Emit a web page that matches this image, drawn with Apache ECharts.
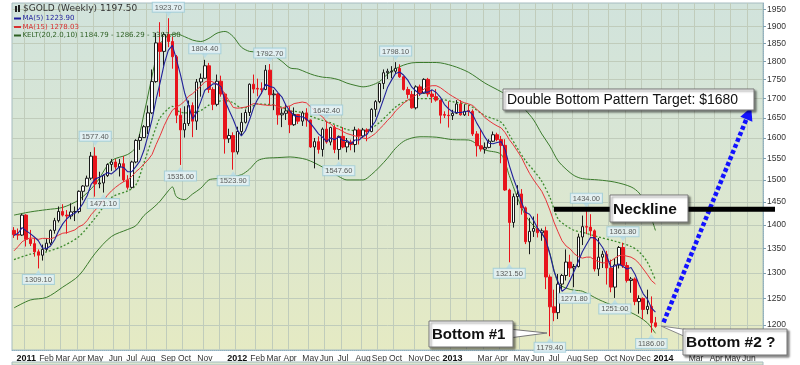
<!DOCTYPE html>
<html><head><meta charset="utf-8">
<script src="https://cdn.jsdelivr.net/npm/echarts@6/dist/echarts.min.js"></script>
<style>html,body{margin:0;padding:0;background:#fff}#c{width:800px;height:365px}</style>
</head><body><div id="c"></div><script>
// ---- calendar (weekly bars, Monday dates) ----
const weekStartUTC = Date.UTC(2010, 11, 13);
const weekCount = 185;
const monthNames = ['Jan','Feb','Mar','Apr','May','Jun','Jul','Aug','Sep','Oct','Nov','Dec'];
const hiddenMonthLabels = ['2011-12', '2013-02', '2014-02'];
const yTicks = [1200,1250,1300,1350,1400,1450,1500,1550,1600,1650,1700,1750,1800,1850,1900,1950];
const yMin = 1154.7, yMax = 1969.3;

// ---- weekly OHLC ($GOLD) ----
const openP = [1388,1379,1378,1421,1369,1360,1343,1336,1348,1361,
1388,1409,1429,1421,1419,1428,1429,1474,1486,1504,
1556,1491,1493,1510,1536,1542,1530,1538,1500,1483,
1542,1594,1601,1628,1663,1745,1852,1828,1876,1856,
1813,1657,1620,1636,1682,1642,1744,1754,1788,1724,
1685,1746,1712,1598,1606,1566,1616,1639,1664,1738,
1727,1726,1724,1776,1710,1712,1658,1662,1668,1633,
1659,1642,1663,1645,1578,1591,1572,1622,1590,1626,
1572,1604,1578,1590,1584,1620,1605,1620,1616,1672,
1692,1740,1769,1771,1773,1781,1758,1724,1711,1676,
1731,1714,1751,1712,1705,1696,1659,1657,1656,1662,
1686,1658,1669,1667,1610,1581,1573,1577,1592,1608,
1596,1582,1477,1405,1462,1468,1437,1364,1386,1392,
1383,1387,1292,1234,1223,1278,1295,1322,1310,1313,
1374,1396,1395,1387,1308,1332,1338,1310,1272,1316,
1352,1315,1285,1288,1244,1250,1229,1235,1204];
const closeP = [1379,1378,1421,1369,1360,1343,1336,1348,1361,1388,
1409,1429,1421,1419,1428,1429,1474,1486,1504,1556,
1491,1493,1510,1536,1542,1530,1538,1500,1483,1542,
1594,1601,1628,1663,1745,1852,1828,1876,1856,1813,
1657,1620,1636,1682,1642,1744,1754,1788,1724,1685,
1746,1712,1598,1606,1566,1616,1639,1664,1738,1725,
1725,1724,1776,1710,1712,1658,1662,1668,1633,1659,
1642,1663,1645,1578,1591,1572,1622,1590,1626,1572,
1604,1578,1590,1584,1620,1605,1620,1616,1672,1692,
1740,1769,1773,1773,1781,1758,1724,1711,1676,1731,
1714,1751,1712,1705,1696,1657,1657,1656,1662,1686,
1658,1667,1667,1610,1581,1573,1577,1592,1608,1596,
1582,1477,1405,1462,1468,1437,1364,1386,1392,1383,
1387,1292,1234,1223,1278,1295,1322,1310,1313,1374,
1396,1395,1387,1308,1332,1338,1310,1272,1316,1352,
1315,1285,1288,1244,1250,1229,1235,1204,1197.5];
const lowP = [1372,1368,1376,1354,1355,1333,1309.1,1325,1344,1357,
1381,1405,1418,1381,1412,1408,1425,1454,1485,1500,
1462,1481,1471.1,1507,1521,1524,1508,1495,1478,1480,
1539,1571,1600,1610,1660,1742,1705,1788,1840,1780,
1637,1535,1601,1630,1602,1620,1705,1753,1715,1670,
1680,1705,1562,1588,1523.9,1560,1605,1636,1655,1714,
1706,1712,1722,1686,1670,1633,1627,1645,1612,1630,
1635,1630,1628,1576,1527,1562,1555,1586,1582,1563,
1547.6,1575,1565,1570,1565,1584,1600,1592,1614,1653,
1688,1725,1752,1754,1766,1755,1721,1700,1674,1672,
1707,1713,1705,1689,1692,1636,1650,1626,1645,1660,
1656,1655,1655,1605,1555,1567,1562,1575,1590,1592,
1539,1475,1321.5,1394,1443,1422,1359,1338,1374,1373,
1366,1268,1179.4,1207,1211,1268,1285,1292,1271.8,1311,
1357,1380,1375,1303,1294,1310,1277,1262,1251,1309,
1310,1281,1261,1237,1221,1211,1220,1186,1195];
const highP = [1395,1392,1424,1423,1389,1373,1348,1358,1371,1390,
1415,1440,1445,1432,1447,1440,1476,1488,1510,1566,
1577.4,1519,1513,1539,1549,1549,1549,1556,1511,1545,
1597,1610,1632,1682,1778,1881,1912,1883,1923.7,1870,
1818,1675,1680,1695,1690,1752,1767,1804.4,1796,1730,
1764,1761,1716,1623,1614,1628,1663,1672,1740,1764,
1753,1743,1790,1792.7,1723,1715,1675,1686,1680,1677,
1660,1668,1675,1646,1600,1604,1626,1642.4,1628,1632,
1606,1627,1600,1596,1628,1624,1625,1624,1675,1696,
1742,1778,1780,1787,1798.1,1792,1760,1731,1720,1735,
1737,1754,1755,1723,1725,1697,1667,1693,1671,1696,
1696,1685,1683,1672,1617,1620,1589,1597,1616,1613,
1605,1597,1480,1469,1488,1479,1440,1415,1418,1424,
1392,1396,1297,1267,1298,1298,1348,1337,1318,1381,
1420,1434,1423,1390,1372,1345,1345,1327,1330,1355,
1361.8,1322,1292,1291,1256,1252,1267,1254,1215];

// ---- indicators ----
const ma5 = [1377,1382,1394,1387,1381,1374,1366,1351,1350,1355,
1368,1387,1402,1413,1421,1425,1434,1447,1464,1490,
1502,1506,1511,1517,1514,1522,1531,1529,1519,1519,
1531,1544,1570,1606,1646,1698,1743,1793,1831,1845,
1806,1764,1716,1682,1647,1665,1692,1722,1730,1739,
1739,1731,1693,1669,1646,1620,1605,1618,1645,1676,
1698,1715,1738,1732,1729,1716,1704,1682,1667,1656,
1653,1653,1648,1637,1624,1610,1602,1591,1600,1596,
1603,1594,1594,1586,1595,1595,1604,1609,1627,1641,
1668,1698,1729,1749,1767,1771,1762,1749,1730,1720,
1711,1717,1717,1723,1716,1704,1685,1674,1666,1664,
1664,1666,1668,1658,1637,1620,1602,1587,1586,1589,
1591,1571,1534,1504,1479,1450,1427,1423,1409,1392,
1382,1368,1338,1304,1283,1264,1270,1286,1304,1323,
1343,1358,1373,1372,1364,1352,1335,1312,1314,1318,
1313,1308,1311,1297,1276,1259,1249,1232,1223.9];
const ma15 = [1345,1354,1364,1369,1372,1371,1369,1371,1371,1370,
1373,1378,1382,1383,1386,1389,1396,1400,1409,1422,
1432,1442,1453,1465,1475,1483,1490,1496,1500,1508,
1519,1527,1537,1547,1560,1584,1606,1631,1652,1670,
1678,1684,1693,1706,1713,1723,1733,1744,1748,1744,
1737,1729,1710,1694,1677,1675,1676,1678,1681,1687,
1686,1684,1683,1682,1684,1678,1675,1679,1681,1687,
1689,1691,1689,1679,1670,1660,1653,1640,1635,1625,
1622,1616,1611,1608,1605,1603,1600,1598,1604,1611,
1622,1632,1644,1654,1668,1678,1688,1696,1702,1709,
1717,1725,1732,1734,1734,1729,1721,1713,1706,1700,
1693,1689,1686,1682,1672,1663,1651,1643,1636,1630,
1625,1613,1596,1583,1568,1553,1533,1515,1500,1487,
1474,1455,1432,1406,1385,1366,1355,1349,1339,1333,
1330,1332,1332,1326,1323,1320,1321,1324,1330,1335,
1336,1334,1332,1327,1319,1308,1297,1285,1278.03];
const keltWeeks = [0,4,8,12,16,20,24,28,30,32,34,35,36,38,39,40,42,44,46,48,50,52,54,56,58,60,62,64,66,68,70,72,74,76,78,80,82,84,86,88,90,92,94,96,98,100,104,108,112,116,120,122,124,126,128,130,132,134,136,138,140,144,148,152,154,156,157,158];
const keltUpper = [1421,1428,1433,1438,1455,1490,1545,1560,1578,1660,1760,1811,1850,1873,1876,1878,1870,1860,1856,1865,1880,1885,1870,1840,1828,1826,1818,1815,1800,1782,1779,1770,1762,1757,1755,1750,1741,1735,1731,1735,1745,1765,1780,1790,1796,1797,1797,1788,1770,1741,1718,1705,1690,1670,1645,1610,1580,1545,1525,1510,1503,1500,1495,1484,1470,1440,1415,1387.8];
const keltMid = [1327,1338,1343,1355,1375,1415,1460,1475,1488,1540,1598,1627,1651,1674,1680,1670,1663,1664,1669,1683,1692,1695,1689,1676,1677,1686,1685,1684,1677,1668,1666,1659,1651,1644,1638,1629,1621,1618,1616,1624,1638,1658,1678,1691,1698,1700,1700,1692,1683,1656,1639,1608,1575,1545,1522,1497,1460,1413,1398,1388,1384,1374,1365,1354,1343,1322,1305,1286.29];
const keltLower = [1232,1247,1252,1272,1295,1340,1375,1390,1398,1420,1435,1443,1452,1475,1484,1462,1455,1468,1481,1500,1503,1505,1508,1512,1525,1545,1551,1552,1553,1554,1552,1548,1540,1530,1520,1508,1500,1500,1500,1512,1530,1551,1575,1592,1600,1603,1602,1596,1595,1571,1560,1510,1460,1420,1398,1383,1340,1280,1270,1266,1264,1248,1235,1223,1215,1204,1195,1184.79];

// ---- labelled swing highs / lows ----
const markWeeks  = [6,20,22,38,41,47,54,63,77,80,94,122,132,138,141,148,150,157];
const markPrices = [1309.1,1577.4,1471.1,1923.7,1535.0,1804.4,1523.9,1792.7,1642.4,1547.6,1798.1,1321.5,1179.4,1271.8,1434.0,1251.0,1361.8,1186.0];
const markSides  = ['low','high','low','high','low','high','low','high','high','low','high','low','low','low','high','low','high','low'];

// ---- annotation values ----
const necklinePrice = 1434;
const necklineFromWeek = 133;
const arrowFrom = [160, 1205];
const arrowTo = [181, 1662];

// ---------------------------------------------------------------
const weeks = [];
for (let i = 0; i < weekCount; i++) {
  weeks.push(new Date(weekStartUTC + i * 7 * 86400000).toISOString().slice(0, 10));
}
const isMonthStart = (i, v) => Number(v.slice(8, 10)) <= 7;
const showMonthLabel = (i, v) => isMonthStart(i, v) && hiddenMonthLabels.indexOf(v.slice(0, 7)) < 0;
const candleData = openP.map((o, i) => [o, closeP[i], lowP[i], highP[i]]);
const pairs = (vals) => keltWeeks.map((w, i) => [w, vals[i]]);
const markData = markWeeks.map((w, i) => {
  const hi = markSides[i] === 'high';
  return {
    value: [w, markPrices[i]],
    symbolRotate: hi ? 180 : 0,
    symbolOffset: [0, hi ? -4 : 4],
    label: { position: hi ? 'top' : 'bottom', formatter: markPrices[i].toFixed(2) }
  };
});
const gridColor = '#c0ccbb';
const bgGrad = new echarts.graphic.LinearGradient(0, 0, 0, 1, [
  { offset: 0, color: '#d1e3dc' }, { offset: 0.5, color: '#dae6d2' }, { offset: 1, color: '#e5eac3' }]);

const chart = echarts.init(document.getElementById('c'));
chart.setOption({
  animation: false,
  backgroundColor: '#fff',
  grid: { left: 12, right: 37, top: 3, bottom: 15, show: true, backgroundColor: bgGrad,
          borderColor: '#a6bcc0', borderWidth: 1, outerBoundsMode: 'none', containLabel: false },
  xAxis: {
    type: 'category', data: weeks, boundaryGap: true,
    axisLine: { show: true, lineStyle: { color: '#8fb0c0', type: 'dotted' } },
    axisTick: { show: false },
    axisLabel: {
      interval: showMonthLabel, margin: 4,
      formatter: (v) => { const m = Number(v.slice(5, 7)); return m === 1 ? '{y|' + v.slice(0, 4) + '}' : '{m|' + monthNames[m - 1] + '}'; },
      rich: { y: { fontFamily: 'Liberation Sans', fontWeight: 'bold', fontSize: 9, color: '#111' },
              m: { fontFamily: 'Liberation Sans', fontSize: 8.5, color: '#333' } }
    },
    splitLine: { show: true, interval: isMonthStart, lineStyle: { color: gridColor, width: 1 } }
  },
  yAxis: {
    type: 'log', logBase: 10, position: 'right', min: yMin, max: yMax, scale: true,
    axisLine: { show: true, lineStyle: { color: '#8fb0c0', type: 'dotted' } },
    axisTick: { show: true, customValues: yTicks, length: 3, lineStyle: { color: '#7f9faf' } },
    axisLabel: { customValues: yTicks, formatter: (v) => String(Math.round(v)), fontFamily: 'Liberation Sans', fontSize: 8.5, color: '#333', margin: 4 },
    splitLine: { show: true, lineStyle: { color: gridColor, width: 1 } },
    minorSplitLine: { show: false }
  },
  series: [
    { type: 'line', data: pairs(keltUpper), symbol: 'none', smooth: 0.3, silent: true, z: 2,
      lineStyle: { color: '#3b7b2c', width: 1 } },
    { type: 'line', data: pairs(keltLower), symbol: 'none', smooth: 0.3, silent: true, z: 2,
      lineStyle: { color: '#3b7b2c', width: 1 } },
    { type: 'line', data: pairs(keltMid), symbol: 'none', smooth: 0.3, silent: true, z: 2,
      lineStyle: { color: '#3e8b2e', width: 1.3, type: [2, 2] } },
    { type: 'candlestick', data: candleData, barWidth: 3, silent: true, z: 3,
      itemStyle: { color: '#ffffff', color0: '#e8141c', borderColor: '#1a1a1a', borderColor0: '#e8141c', borderWidth: 1 } },
    { type: 'line', data: ma15, symbol: 'none', silent: true, z: 4,
      lineStyle: { color: '#e8343a', width: 1 } },
    { type: 'line', data: ma5, symbol: 'none', silent: true, z: 5,
      lineStyle: { color: '#20209a', width: 1.1 },
      markLine: { silent: true, symbol: ['none', 'triangle'], symbolSize: [13, 13], label: { show: false },
        lineStyle: { color: '#1212ff', width: 4.5, type: [4, 2.5] },
        data: [[{ coord: arrowFrom }, { coord: arrowTo }]] } },
    { type: 'scatter', data: markData, symbol: 'triangle', symbolSize: [7, 5], silent: true, z: 6,
      itemStyle: { color: '#b6dbe6' },
      label: { show: true, distance: 0, fontFamily: 'Liberation Sans', fontSize: 7.5, color: '#333',
               backgroundColor: '#e6f3f7', borderColor: '#9ccbd8', borderWidth: 1, padding: [1, 2, 0, 2], lineHeight: 8 } }
  ]
});

// ---- annotations ----
const neck = chart.convertToPixel({ gridIndex: 0 }, [necklineFromWeek, necklinePrice]);
function box(x, y, w, h, text, font, tx) {
  return [
    { type: 'rect', z: 100, shape: { x: x, y: y, width: w, height: h },
      style: { fill: '#ffffff', stroke: '#777', lineWidth: 1, shadowBlur: 2, shadowColor: 'rgba(0,0,0,0.45)', shadowOffsetX: 2, shadowOffsetY: 2 } },
    { type: 'text', z: 101, x: x + tx, y: y + h / 2 + 1, style: { text: text, font: font, fill: '#111', verticalAlign: 'middle' } }
  ];
}
function legendLine(y, color, text) {
  return [
    { type: 'line', z: 90, shape: { x1: 14, y1: y, x2: 21, y2: y }, style: { stroke: color, lineWidth: 2 } },
    { type: 'text', z: 90, x: 22.5, y: y, style: { text: text, font: '7px "DejaVu Sans"', fill: color, verticalAlign: 'middle' } }
  ];
}
chart.setOption({
  graphic: [
    { type: 'rect', z: 90, shape: { x: 15, y: 6, width: 2, height: 6 }, style: { fill: '#222' } },
    { type: 'rect', z: 90, shape: { x: 18, y: 5, width: 2, height: 7 }, style: { fill: '#222' } },
    { type: 'text', z: 90, x: 23, y: 9, style: { text: '$GOLD (Weekly) 1197.50', font: '9px "DejaVu Sans"', fill: '#333', verticalAlign: 'middle' } },
    ...legendLine(18.5, '#1c1c9c', 'MA(5) 1223.90'),
    ...legendLine(27, '#d83030', 'MA(15) 1278.03'),
    ...legendLine(35.5, '#2d5f22', 'KELT(20,2.0,10) 1184.79 - 1286.29 - 1387.80'),
    { type: 'line', z: 95, shape: { x1: neck[0], y1: neck[1], x2: 775, y2: neck[1] }, style: { stroke: '#000', lineWidth: 5 } },
    ...box(503, 89, 251, 21, 'Double Bottom Pattern Target: $1680', '14px "Liberation Sans"', 4),
    ...box(610, 195, 78, 27, 'Neckline', 'bold 15.5px "Liberation Sans"', 3),
    { type: 'polygon', z: 99, shape: { points: [[509, 329], [547, 333], [509, 338]] }, style: { fill: '#fff', stroke: '#777', lineWidth: 1 } },
    ...box(429, 321, 84, 26, 'Bottom #1', 'bold 15px "Liberation Sans"', 3),
    { type: 'polygon', z: 99, shape: { points: [[661, 326], [690, 330], [686, 337]] }, style: { fill: '#fff', stroke: '#888', lineWidth: 1 } },
    ...box(683, 329, 104, 26, 'Bottom #2 ?', 'bold 15.5px "Liberation Sans"', 3),
    { type: 'rect', z: 80, shape: { x: 12, y: 362, width: 751, height: 3 }, style: { fill: '#dbe5cf', stroke: '#a6bcc0', lineWidth: 1 } }
  ]
});
</script></body></html>
